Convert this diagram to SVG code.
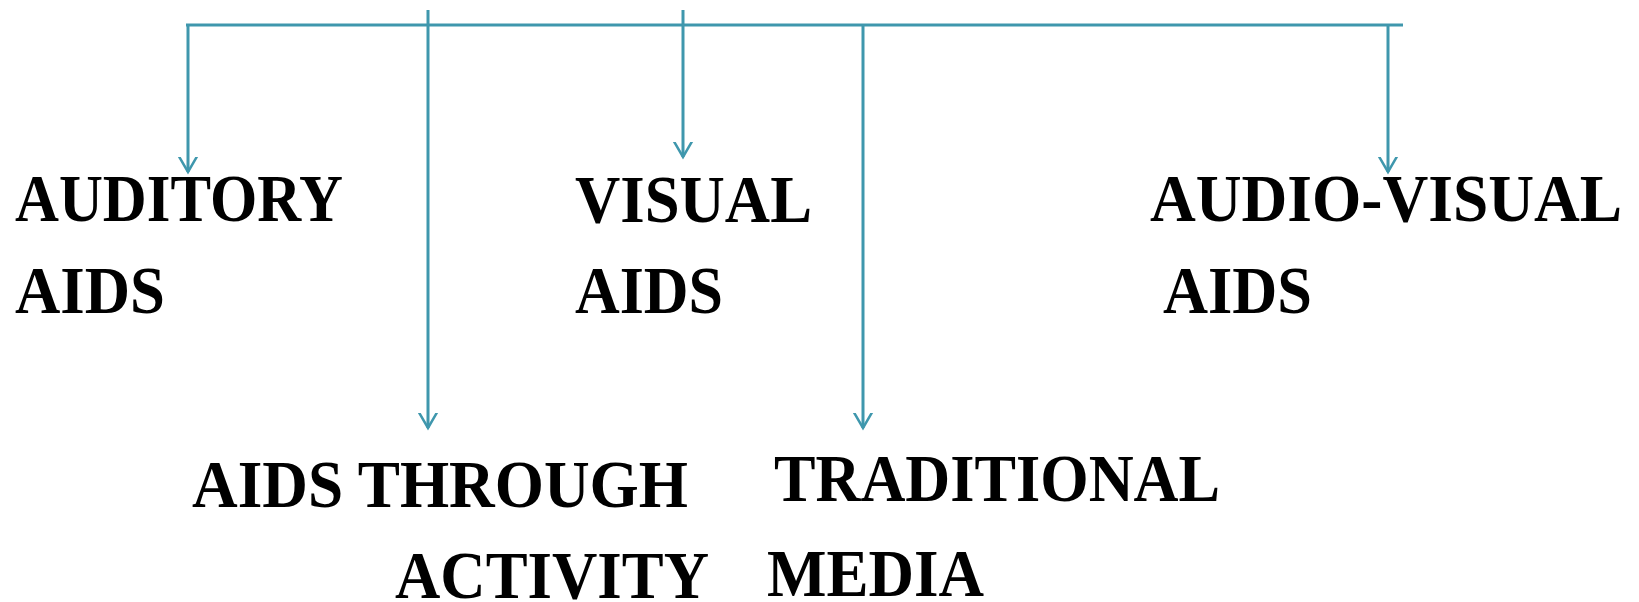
<svg xmlns="http://www.w3.org/2000/svg" width="1639" height="602" viewBox="0 0 1639 602">
  <style>
    .lbl { font-family: "Liberation Serif", "Times New Roman", serif; font-weight: bold; font-size: 68px; fill: #000; }
    .conn { stroke: #3f97ad; stroke-width: 3; fill: none; }
  </style>
  <defs>
    <marker id="arr" markerUnits="userSpaceOnUse" markerWidth="30" markerHeight="30" refX="15" refY="20" orient="auto-start-reverse" viewBox="0 0 30 30">
      <polyline points="4,1 15,20 26,1" transform="rotate(-90 15 20)" fill="none" stroke="#3f97ad" stroke-width="2.5"/>
    </marker>
  </defs>
  <rect width="1639" height="602" fill="#fff"/>
  <g id="connectors">
    <line class="conn" x1="186" y1="25" x2="1403" y2="25"/>
    <line class="conn" x1="188" y1="25" x2="188" y2="172" marker-end="url(#arr)"/>
    <line class="conn" x1="428" y1="10" x2="428" y2="428" marker-end="url(#arr)"/>
    <line class="conn" x1="683" y1="10" x2="683" y2="157" marker-end="url(#arr)"/>
    <line class="conn" x1="863" y1="25" x2="863" y2="428" marker-end="url(#arr)"/>
    <line class="conn" x1="1388" y1="25" x2="1388" y2="172" marker-end="url(#arr)"/>
  </g>
  <g id="node-auditory">
    <text class="lbl" x="15" y="221" textLength="328" lengthAdjust="spacingAndGlyphs">AUDITORY</text>
    <text class="lbl" x="15" y="313" textLength="150" lengthAdjust="spacingAndGlyphs">AIDS</text>
  </g>
  <g id="node-visual">
    <text class="lbl" x="575" y="222" textLength="237" lengthAdjust="spacingAndGlyphs">VISUAL</text>
    <text class="lbl" x="575" y="313" textLength="148" lengthAdjust="spacingAndGlyphs">AIDS</text>
  </g>
  <g id="node-audio-visual">
    <text class="lbl" x="1150" y="221" textLength="472" lengthAdjust="spacingAndGlyphs">AUDIO-VISUAL</text>
    <text class="lbl" x="1163" y="313" textLength="149" lengthAdjust="spacingAndGlyphs">AIDS</text>
  </g>
  <g id="node-activity">
    <text class="lbl" x="192" y="507" textLength="496" lengthAdjust="spacingAndGlyphs">AIDS THROUGH</text>
    <text class="lbl" x="395" y="598" textLength="314" lengthAdjust="spacingAndGlyphs">ACTIVITY</text>
  </g>
  <g id="node-traditional">
    <text class="lbl" x="774" y="501" textLength="446" lengthAdjust="spacingAndGlyphs">TRADITIONAL</text>
    <text class="lbl" x="767" y="596" textLength="217" lengthAdjust="spacingAndGlyphs">MEDIA</text>
  </g>
</svg>
